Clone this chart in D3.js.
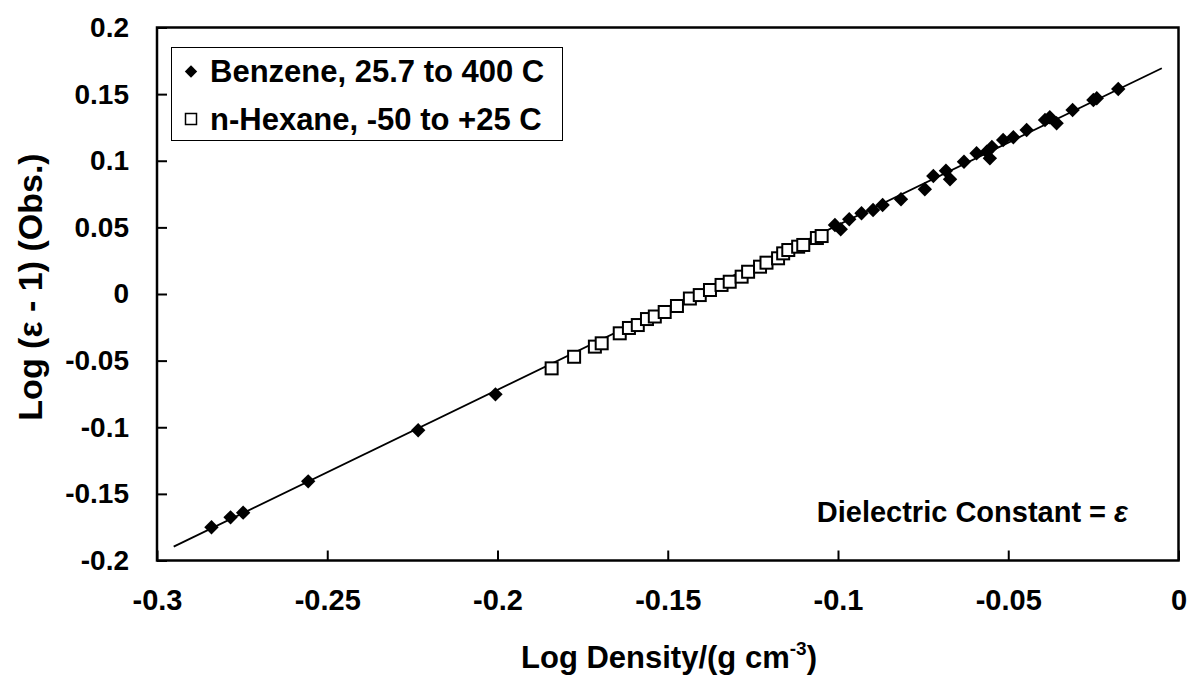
<!DOCTYPE html>
<html>
<head>
<meta charset="utf-8">
<script src="https://cdn.jsdelivr.net/npm/d3@7"></script>
<style>
  html, body { margin: 0; padding: 0; background: #fff; }
  svg { display: block; font-family: "Liberation Sans", Arial, sans-serif; font-weight: bold; }
</style>
</head>
<body>
<svg id="chart" width="1190" height="688"></svg>
<script>
// ---- data ----
const benzeneX = [-0.2840, -0.2784, -0.2747, -0.2556, -0.2233, -0.2006,
  -0.1009, -0.0992, -0.0967, -0.0931, -0.0897, -0.0869, -0.0815, -0.0745,
  -0.0720, -0.0683, -0.0671, -0.0630, -0.0593, -0.0563, -0.0554, -0.0548,
  -0.0515, -0.0485, -0.0446, -0.0392, -0.0378, -0.0358, -0.0311, -0.0250,
  -0.0240, -0.0177];
const benzeneY = [-0.1751, -0.1676, -0.1641, -0.1406, -0.1023, -0.0753,
  0.0518, 0.0486, 0.0561, 0.0606, 0.0630, 0.0668, 0.0711, 0.0786,
  0.0886, 0.0925, 0.0861, 0.0993, 0.1056, 0.1068, 0.1018, 0.1103,
  0.1156, 0.1176, 0.1231, 0.1306, 0.1326, 0.1281, 0.1381, 0.1456,
  0.1469, 0.1538];
const hexaneX = [-0.1841, -0.1775, -0.1714, -0.1694, -0.1641, -0.1614,
  -0.1588, -0.1561, -0.1538, -0.1509, -0.1473, -0.1435, -0.1406, -0.1376,
  -0.1342, -0.1318, -0.1283, -0.1264, -0.1229, -0.1210, -0.1176, -0.1161,
  -0.1146, -0.1117, -0.1102, -0.1062, -0.1048];
const hexaneY = [-0.0558, -0.0471, -0.0395, -0.0370, -0.0295, -0.0255,
  -0.0233, -0.0188, -0.0169, -0.0135, -0.0090, -0.0034, -0.0008, 0.0030,
  0.0068, 0.0092, 0.0130, 0.0167, 0.0205, 0.0235, 0.0268, 0.0305,
  0.0330, 0.0355, 0.0368, 0.0420, 0.0435];
const fitX = [-0.2951, -0.0049];
const fitY = [-0.1896, 0.1694];
const xTicks = [-0.3, -0.25, -0.2, -0.15, -0.1, -0.05, 0];
const yTicks = [-0.2, -0.15, -0.1, -0.05, 0, 0.05, 0.1, 0.15, 0.2];
const legendLabels = ["Benzene, 25.7 to 400 C", "n-Hexane, -50 to +25 C"];

// ---- layout ----
const svg = d3.select("#chart");
const L = 157, R = 1178.5, T = 27.5, B = 560.5;
const x = d3.scaleLinear().domain([-0.3, 0]).range([L, R]);
const y = d3.scaleLinear().domain([-0.2, 0.2]).range([B, T]);
const fmt = d => (d === 0 ? "0" : String(+d.toFixed(2)));

// axes
const xAxis = d3.axisBottom(x).tickValues(xTicks).tickSizeInner(-10).tickSizeOuter(0).tickPadding(29).tickFormat(fmt);
const yAxis = d3.axisLeft(y).tickValues(yTicks).tickSizeInner(-10).tickSizeOuter(0).tickPadding(28).tickFormat(fmt);

const gx = svg.append("g").attr("transform", `translate(0,${B})`).call(xAxis);
const gy = svg.append("g").attr("transform", `translate(${L},0)`).call(yAxis);
[gx, gy].forEach((g, i) => {
  g.select(".domain").remove();
  g.selectAll(".tick line").attr("stroke", "#000").attr("stroke-width", 2);
  g.selectAll(".tick text").attr("fill", "#000").style("font-size", i === 0 ? "29px" : "28px")
    .style("font-family", "'Liberation Sans', Arial, sans-serif").style("font-weight", "bold");
});

// frame
svg.append("rect").attr("x", L).attr("y", T).attr("width", R - L).attr("height", B - T)
  .attr("fill", "none").attr("stroke", "#000").attr("stroke-width", 2.5);

// fit line
svg.append("line")
  .attr("x1", x(fitX[0])).attr("y1", y(fitY[0]))
  .attr("x2", x(fitX[1])).attr("y2", y(fitY[1]))
  .attr("stroke", "#000").attr("stroke-width", 1.8);

// benzene diamonds
const dSize = 7.2;
const diamond = (cx, cy, s) => `M${cx},${cy - s}L${cx + s},${cy}L${cx},${cy + s}L${cx - s},${cy}Z`;
svg.append("g").selectAll("path").data(benzeneX.map((v, i) => [v, benzeneY[i]]))
  .join("path").attr("d", d => diamond(x(d[0]), y(d[1]), dSize)).attr("fill", "#000");

// hexane squares
const sq = 12;
svg.append("g").selectAll("rect").data(hexaneX.map((v, i) => [v, hexaneY[i]]))
  .join("rect")
  .attr("x", d => x(d[0]) - sq / 2).attr("y", d => y(d[1]) - sq / 2)
  .attr("width", sq).attr("height", sq)
  .attr("fill", "#fff").attr("stroke", "#000").attr("stroke-width", 2);

// legend
const lg = svg.append("g");
lg.append("rect").attr("x", 171.5).attr("y", 47.5).attr("width", 391).attr("height", 93)
  .attr("fill", "#fff").attr("stroke", "#000").attr("stroke-width", 1);
lg.append("path").attr("d", diamond(191, 71.5, 6.2)).attr("fill", "#000");
lg.append("rect").attr("x", 185.5).attr("y", 113.5).attr("width", 11).attr("height", 11)
  .attr("fill", "#fff").attr("stroke", "#000").attr("stroke-width", 1.5);
lg.selectAll("text.lt").data(legendLabels).join("text").attr("class", "lt")
  .attr("x", 210).attr("y", (d, i) => 82 + i * 47.5)
  .style("font-size", "31px").text(d => d);

// axis titles
svg.append("text")
  .attr("transform", `translate(42,287) rotate(-90)`)
  .attr("text-anchor", "middle").style("font-size", "34px")
  .text("Log (ε - 1) (Obs.)");

const xt = svg.append("text").attr("x", 669).attr("y", 668)
  .attr("text-anchor", "middle").style("font-size", "31px");
xt.append("tspan").text("Log Density/(g cm");
xt.append("tspan").attr("dy", -13).style("font-size", "19px").text("-3");
xt.append("tspan").attr("dy", 13).text(")");

// annotation
const ann = svg.append("text").attr("x", 1128).attr("y", 522)
  .attr("text-anchor", "end").style("font-size", "29px");
ann.append("tspan").text("Dielectric Constant = ");
ann.append("tspan").style("font-style", "italic").text("ε");
</script>
</body>
</html>
